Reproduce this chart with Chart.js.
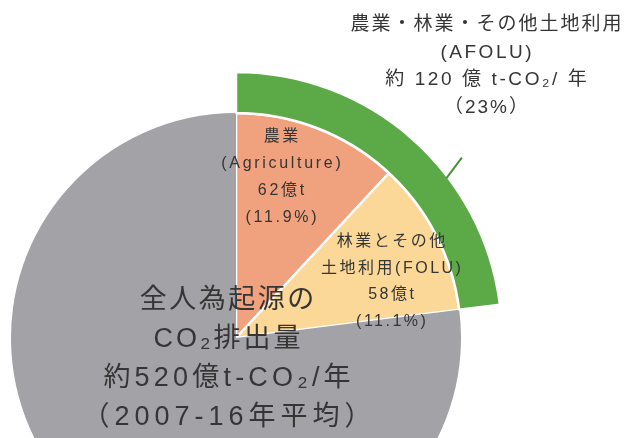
<!DOCTYPE html>
<html>
<head>
<meta charset="utf-8">
<script src="https://cdn.jsdelivr.net/npm/chart.js@4.4.1/dist/chart.umd.min.js"></script>
<style>
  html, body { margin: 0; padding: 0; background: #fff; overflow: hidden; }
  #wrap { position: relative; width: 628px; height: 676px; }
</style>
</head>
<body>
<div id="wrap"><canvas id="co2Pie" width="628" height="676"></canvas></div>
<script>
// data (share of all human CO2 emissions, 2007-16 avg)
const categories = ['農業 (Agriculture)', '林業とその他土地利用 (FOLU)', 'その他の排出'];
const sharePct = [11.9, 11.1, 77.0];
const afoluLabels = ['AFOLU', ''];
const afoluPct = [23, 77];

// text blocks
const afoluText = ['農業・林業・その他土地利用', '(AFOLU)', '約 120 億 t-CO₂/ 年', '（23%）'];
const agriText = ['農業', '(Agriculture)', '62億t', '(11.9%)'];
const foluText = ['林業とその他', '土地利用(FOLU)', '58億t', '(11.1%)'];
const totalText = ['全人為起源の', 'CO₂排出量', '約520億t-CO₂/年', '（2007-16年平均）'];

const GRAY = '#a3a3a7';
const ORANGE = '#f0a27f';
const YELLOW = '#fbd898';
const GREEN = '#5caa47';
const TEXT = '#353535';
const FONT = '"Liberation Sans", "Noto Sans CJK JP", sans-serif';

// ls: letter spacing, one value or one per line
function drawBlock(ctx, lines, x, y, step, size, ls) {
  ctx.font = size + 'px ' + FONT;
  lines.forEach(function (t, i) {
    const s = Array.isArray(ls) ? ls[i] : ls;
    ctx.letterSpacing = s + 'px';
    ctx.fillText(t, x + s / 2, y + i * step);
  });
}

const labelPlugin = {
  id: 'labelPlugin',
  afterDatasetsDraw(chart) {
    const ctx = chart.ctx;
    const ring = chart.getDatasetMeta(0).data[0];
    const cx = ring.x, cy = ring.y;
    const R = ring.outerRadius;

    // leader line from the green ring to its label
    const a1 = (52.8 - 90) * Math.PI / 180, a2 = (51.4 - 90) * Math.PI / 180;
    ctx.save();
    ctx.strokeStyle = '#4b8f3a';
    ctx.lineWidth = 2;
    ctx.beginPath();
    ctx.moveTo(cx + (R - 2) * Math.cos(a1), cy + (R - 2) * Math.sin(a1));
    ctx.lineTo(cx + (R + 23) * Math.cos(a2), cy + (R + 23) * Math.sin(a2));
    ctx.stroke();

    ctx.fillStyle = TEXT;
    ctx.textAlign = 'center';
    ctx.textBaseline = 'middle';
    drawBlock(ctx, afoluText, cx + 250, cy - 313, 27.5, 19, [2, 2.5, 2.6, 2]);
    drawBlock(ctx, agriText, cx + 45, cy - 201, 27, 16, 2.7);
    drawBlock(ctx, foluText, cx + 155, cy - 96, 26.5, 16, 2.5);
    drawBlock(ctx, totalText, cx - 9, cy - 37, 39, 27, [2.5, 3, 4.2, 5]);
    ctx.restore();
  }
};

document.addEventListener('DOMContentLoaded', function () {
  const ctx = document.getElementById('co2Pie').getContext('2d');
  new Chart(ctx, {
    type: 'pie',
    data: {
      labels: categories,
      datasets: [
        {
          label: 'AFOLU',
          data: afoluPct,
          backgroundColor: [GREEN, 'rgba(0,0,0,0)'],
          borderColor: '#ffffff',
          borderWidth: [2.5, 0],
          weight: 41,
          clip: false
        },
        {
          label: '全人為起源のCO2排出量',
          data: sharePct,
          backgroundColor: [ORANGE, YELLOW, GRAY],
          borderColor: '#ffffff',
          borderWidth: [2.5, 2.5, 0],
          weight: 225,
          clip: false
        }
      ]
    },
    options: {
      responsive: false,
      animation: false,
      radius: 266,
      layout: { padding: { right: 156 } },
      plugins: {
        legend: { display: false },
        tooltip: { enabled: false }
      }
    },
    plugins: [labelPlugin]
  });
});
</script>
</body>
</html>
